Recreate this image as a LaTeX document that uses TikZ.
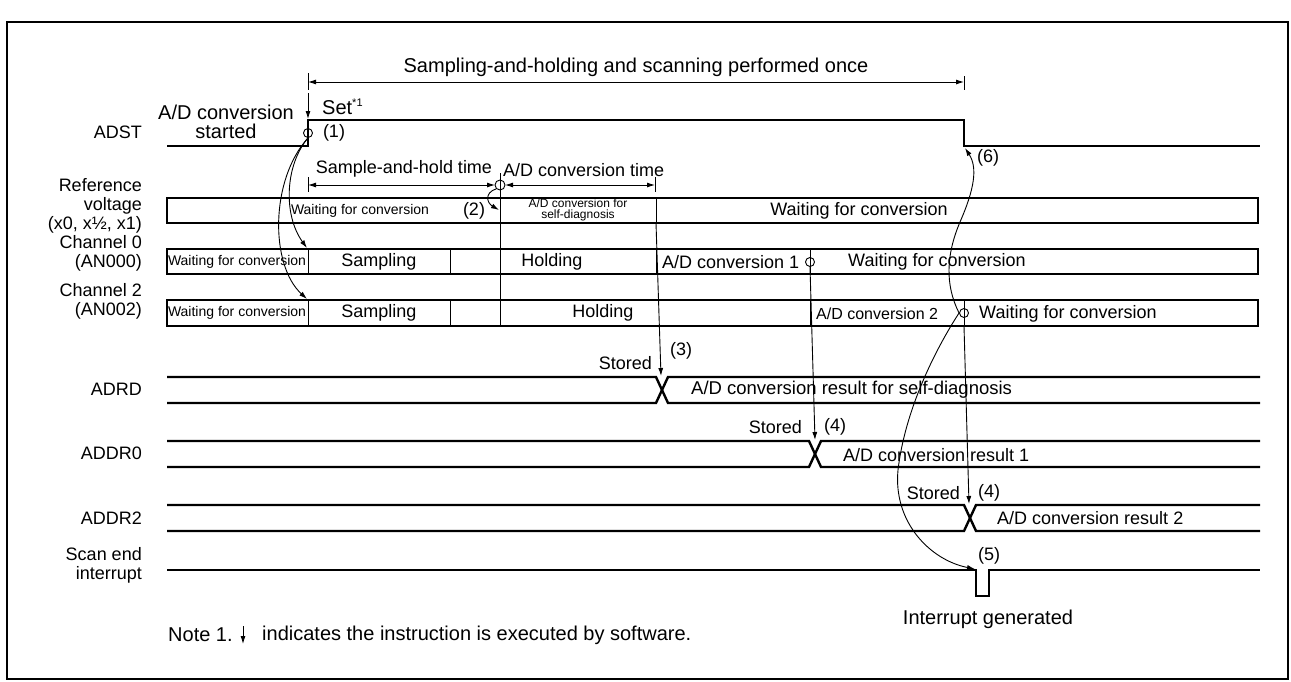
\documentclass[tikz,border=0pt]{standalone}
\usepackage{fontspec}
\setmainfont{Liberation Sans}
\usetikzlibrary{arrows.meta}
\begin{document}
\begin{tikzpicture}[x=1pt,y=-1pt,
  sig/.style={line width=2.4pt},
  boxl/.style={line width=2.7pt},
  thinl/.style={line width=0.9pt},
  arr/.style={line width=0.9pt,-{Latex[length=8pt,width=5pt]}},
  dim/.style={line width=0.9pt,{Latex[length=8pt,width=5pt]}-{Latex[length=8pt,width=5pt]}},
  lbl/.style={font=\fontsize{18}{19}\selectfont, inner sep=0pt},
  big/.style={font=\fontsize{20}{19}\selectfont, inner sep=0pt},
  sml/.style={font=\fontsize{14}{15}\selectfont, inner sep=0pt},
  mid/.style={font=\fontsize{16}{17}\selectfont, inner sep=0pt},
  tiny/.style={font=\fontsize{12}{10.5}\selectfont, inner sep=0pt, align=center},
  lab/.style={lbl, anchor=east, align=right},
  ring/.style={circle, draw, line width=0.9pt, minimum size=9pt, inner sep=0pt}
]
\useasboundingbox (0,0) rectangle (1291,681);
\draw[line width=2.4pt] (7,22) rectangle (1288,679);

% left labels
\node[lab] (lADST) at (142,132) {ADST};
\node[lab] (lREF) at (142,206) {Reference\\voltage\\(x0, x½, x1)};
\node[lab] (lCH0) at (142,253) {Channel 0\\(AN000)};
\node[lab] (lCH2) at (142,301) {Channel 2\\(AN002)};
\node[lab] (lADRD) at (142,389) {ADRD};
\node[lab] (lADDR0) at (142,453) {ADDR0};
\node[lab] (lADDR2) at (142,518) {ADDR2};
\node[lab] (lSCAN) at (142,565) {Scan end\\interrupt};

% title dimension
\node[big] (title) at (636,67) {Sampling-and-holding and scanning performed once};
\coordinate (tA) at (308,82);
\coordinate (tB) at (964,82);
\draw[thinl] (308,73) -- (308,90);
\draw[thinl] (964,76) -- (964,90);
\draw[dim] (tA) -- (tB);

% ADST
\draw[sig] (167,146) -- (308,146) -- (308,120) -- (964,120) -- (964,146) -- (1260,146);
\coordinate (setT) at (308,93);
\coordinate (setB) at (308,119);
\draw[arr] (setT) -- (setB);
\node[big, anchor=west] (set) at (322,107) {Set\textsuperscript{\fontsize{11}{12}\selectfont *1}};
\node[big, align=center] (started) at (226,122) {A/D conversion\\started};
\node[ring] (c1) at (308,133) {};
\node[lbl] (n1) at (334,133) {(1)};

% sample-and-hold / conversion time
\node[lbl] (sht) at (404,169) {Sample-and-hold time};
\node[lbl, anchor=west] (adt) at (503,170) {A/D conversion time};
\draw[thinl] (308,177) -- (308,192);
\draw[thinl] (655,177) -- (655,192);
\coordinate (d1) at (308,185);
\coordinate (d2) at (495,185);
\coordinate (d3) at (505,185);
\coordinate (d4) at (655,185);
\draw[dim] (d1) -- (d2);
\draw[dim] (d3) -- (d4);
\node[ring, minimum size=10pt] (c2) at (500,185) {};
\draw[thinl] (500,173) -- (500,326);

% Reference voltage box
\draw[boxl] (167,198) rectangle (1258,223);
\draw[thinl] (656,198) -- (656,223);
\node[sml] at (360,211) {Waiting for conversion};
\node[lbl] (n2) at (474,211) {(2)};
\node[tiny] at (578,210) {A/D conversion for\\self-diagnosis};
\node[lbl] at (859,211) {Waiting for conversion};
\coordinate (c2t) at (499,210);
\draw[arr] (c2.south west) .. controls (484,193) and (487,203) .. (c2t);

% Channel 0 box
\draw[boxl] (167,249) rectangle (1258,274);
\foreach \x in {308,450,656,810} \draw[thinl] (\x,249) -- (\x,274);
\node[sml] at (237,262) {Waiting for conversion};
\node[lbl] at (379,262) {Sampling};
\node[lbl] at (552,262) {Holding};
\node[lbl, anchor=west] at (662,262) {A/D conversion 1};
\node[ring] (c3) at (810,262) {};
\node[lbl, anchor=west] at (848,262) {Waiting for conversion};

% Channel 2 box
\draw[boxl] (167,300) rectangle (1258,326);
\foreach \x in {308,450,810,964} \draw[thinl] (\x,300) -- (\x,326);
\node[sml] at (237,313) {Waiting for conversion};
\node[lbl] at (379,313) {Sampling};
\node[lbl] at (603,313) {Holding};
\node[mid, anchor=west] at (816,314) {A/D conversion 2};
\node[ring] (c4) at (964,313) {};
\node[lbl, anchor=west] at (979,314) {Waiting for conversion};

% arrows from (1)
\coordinate (ch0s) at (307,248);
\coordinate (ch2s) at (307,299);
\draw[arr] (c1.south) .. controls (285,165) and (283,215) .. (ch0s);
\draw[arr] (c1.south) .. controls (270,180) and (270,265) .. (ch2s);

% ADRD
\draw[sig] (167,377) -- (656,377) -- (668,403) -- (1260,403);
\draw[sig] (167,403) -- (656,403) -- (668,377) -- (1260,377);
\node[lbl, anchor=east] at (652,363) {Stored};
\node[lbl] at (681,351) {(3)};
\node[font=\fontsize{18.5}{19}\selectfont, inner sep=0pt, anchor=west] at (691,390) {A/D conversion result for self-diagnosis};
\coordinate (r3s) at (656,223);
\coordinate (r3e) at (661,376);
\draw[arr] (r3s) -- (r3e);

% ADDR0
\draw[sig] (167,441) -- (809,441) -- (821,467) -- (1260,467);
\draw[sig] (167,467) -- (809,467) -- (821,441) -- (1260,441);
\node[lbl, anchor=east] at (802,427) {Stored};
\node[lbl] at (835,427) {(4)};
\node[lbl, anchor=west] at (843,455) {A/D conversion result 1};
\coordinate (r4e) at (815,440);
\draw[arr] (c3.south) -- (r4e);

% ADDR2
\draw[sig] (167,505) -- (964,505) -- (976,531) -- (1260,531);
\draw[sig] (167,531) -- (964,531) -- (976,505) -- (1260,505);
\node[lbl, anchor=east] at (960,493) {Stored};
\node[lbl] at (989,493) {(4)};
\node[lbl, anchor=west] at (997,518) {A/D conversion result 2};
\coordinate (r5s) at (964,326);
\coordinate (r5e) at (969,504);
\draw[arr] (r5s) -- (r5e);

% Scan end interrupt
\draw[sig] (167,570) -- (976,570) -- (976,596) -- (989,596) -- (989,570) -- (1260,570);
\node[lbl] at (989,556) {(5)};
\node[big] at (988,619) {Interrupt generated};
\node[lbl] at (988,158) {(6)};

% long curves
\coordinate (intT) at (975,569);
\coordinate (adstF) at (965,148);
\draw[arr] (c4.west) .. controls (945,285) and (946,255) .. (960,222) .. controls (974,190) and (978,168) .. (adstF);
\draw[arr] (c4.west) .. controls (935,350) and (905,410) .. (898,470) .. controls (893,522) and (930,560) .. (intT);

% note
\node[big, anchor=west] (note) at (168,635) {Note 1.};
\coordinate (nT) at (243,626);
\coordinate (nB) at (243,644);
\draw[arr] (nT) -- (nB);
\node[big, anchor=west] at (262,635) {indicates the instruction is executed by software.};
\end{tikzpicture}
\end{document}
